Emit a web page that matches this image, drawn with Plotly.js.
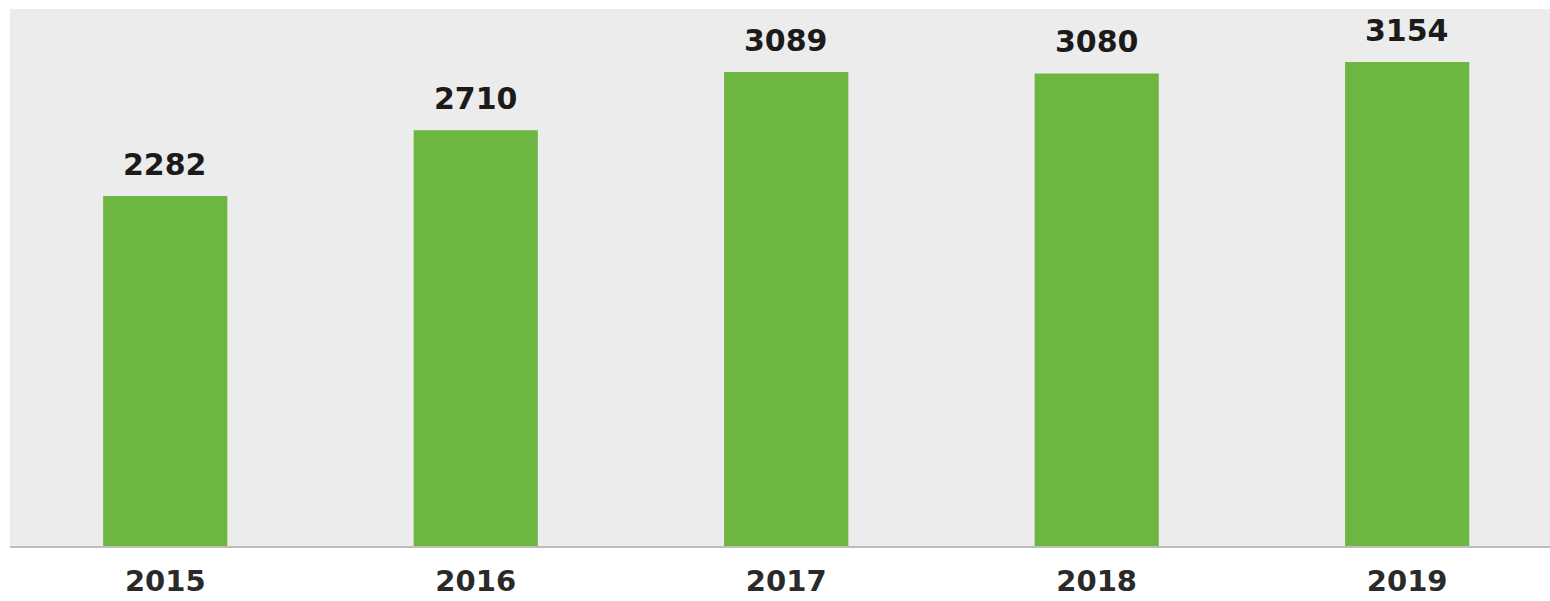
<!DOCTYPE html>
<html>
<head>
<meta charset="utf-8">
<script src="https://cdn.plot.ly/plotly-3.0.1.min.js"></script>
<style>
  html, body { margin: 0; padding: 0; background: #ffffff; }
  #chart { width: 1550px; height: 601px; }
</style>
</head>
<body>
<div id="chart"></div>
<script>
// yearly totals
var years = ['2015', '2016', '2017', '2018', '2019'];
var totals = [2282, 2710, 3089, 3080, 3154];

var bars = {
    type: 'bar',
    x: years,
    y: totals,
    marker: { color: '#6cb641' },
    width: 0.4,
    hoverinfo: 'x+y'
};

// value labels sit a bit above each bar (category index as x, year strings look numeric)
var valueLabels = years.map(function (yr, i) {
    return {
        x: i,
        y: totals[i],
        xref: 'x',
        yref: 'y',
        text: String(totals[i]),
        showarrow: false,
        yanchor: 'bottom',
        yshift: 12,
        font: { family: 'DejaVu Sans', size: 30, weight: 'bold', color: '#1b1b1b' }
    };
});

var layout = {
    width: 1550,
    height: 601,
    margin: { l: 10, r: 0, t: 9, b: 55 },
    paper_bgcolor: '#ffffff',
    plot_bgcolor: '#ececec',
    showlegend: false,
    xaxis: {
        type: 'category',
        range: [-0.5, 4.46],
        showline: true,
        linecolor: '#bdbdbd',
        linewidth: 2,
        ticks: '',
        ticklabelstandoff: 8,
        tickfont: { family: 'DejaVu Sans', size: 29, weight: 'bold', color: '#2a2a2a' },
        showgrid: false,
        zeroline: false
    },
    yaxis: {
        range: [0, 3500],
        showgrid: false,
        zeroline: false,
        showticklabels: false,
        ticks: ''
    },
    annotations: valueLabels
};

Plotly.newPlot('chart', [bars], layout, { displayModeBar: false, staticPlot: true });
</script>
</body>
</html>
